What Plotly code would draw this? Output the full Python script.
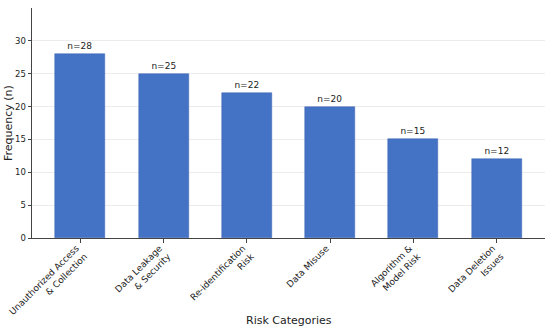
import plotly.graph_objects as go

categories = ["Unauthorized Access<br>& Collection", "Data Leakage<br>& Security",
              "Re-identification<br>Risk", "Data Misuse", "Algorithm &<br>Model Risk",
              "Data Deletion<br>Issues"]
values = [28, 25, 22, 20, 15, 12]
labels = [f"n={v}" for v in values]

fig = go.Figure(go.Bar(
    x=list(range(len(categories))), y=values, width=0.6,
    marker=dict(color="#4472C4", line=dict(color="#3a64b0", width=0.5)),
    text=labels, textposition="outside", cliponaxis=False,
    textfont=dict(family="DejaVu Sans", size=9, color="#222"),
))
fig.update_layout(
    width=550, height=328, plot_bgcolor="white", paper_bgcolor="white",
    margin=dict(l=32, r=5, t=8, b=90),
    font=dict(family="DejaVu Sans", color="#222"),
    showlegend=False, bargap=0,
    annotations=[
        dict(text="Risk Categories", xref="paper", yref="paper", x=0.5, y=0,
             yshift=-82, xanchor="center", yanchor="middle", showarrow=False,
             font=dict(size=11, color="#222")),
        dict(text="Frequency (n)", xref="paper", yref="paper", x=0, y=0.5,
             xshift=-24, xanchor="center", yanchor="middle", showarrow=False,
             textangle=-90, font=dict(size=11, color="#222")),
    ],
)
fig.update_xaxes(
    tickvals=list(range(len(categories))), ticktext=categories, tickangle=-45,
    range=[-0.58, 5.58], showline=True, linecolor="#444", linewidth=1,
    ticks="outside", ticklen=3.5, tickcolor="#444", tickfont=dict(size=9),
    ticklabelshift=-4, ticklabelstandoff=-3,
    showgrid=False, zeroline=False, automargin=False,
)
fig.update_yaxes(
    range=[0, 35], tickvals=[0, 5, 10, 15, 20, 25, 30], showline=True,
    linecolor="#444", linewidth=1, ticks="outside", ticklen=3.5, tickcolor="#444",
    tickfont=dict(size=8.5), showgrid=True, gridcolor="#ececec", gridwidth=0.6,
    zeroline=False, automargin=False,
)
fig.write_html("out.html", config={"displayModeBar": False},
               post_script="document.body.style.margin='0';document.body.style.overflow='hidden';")
